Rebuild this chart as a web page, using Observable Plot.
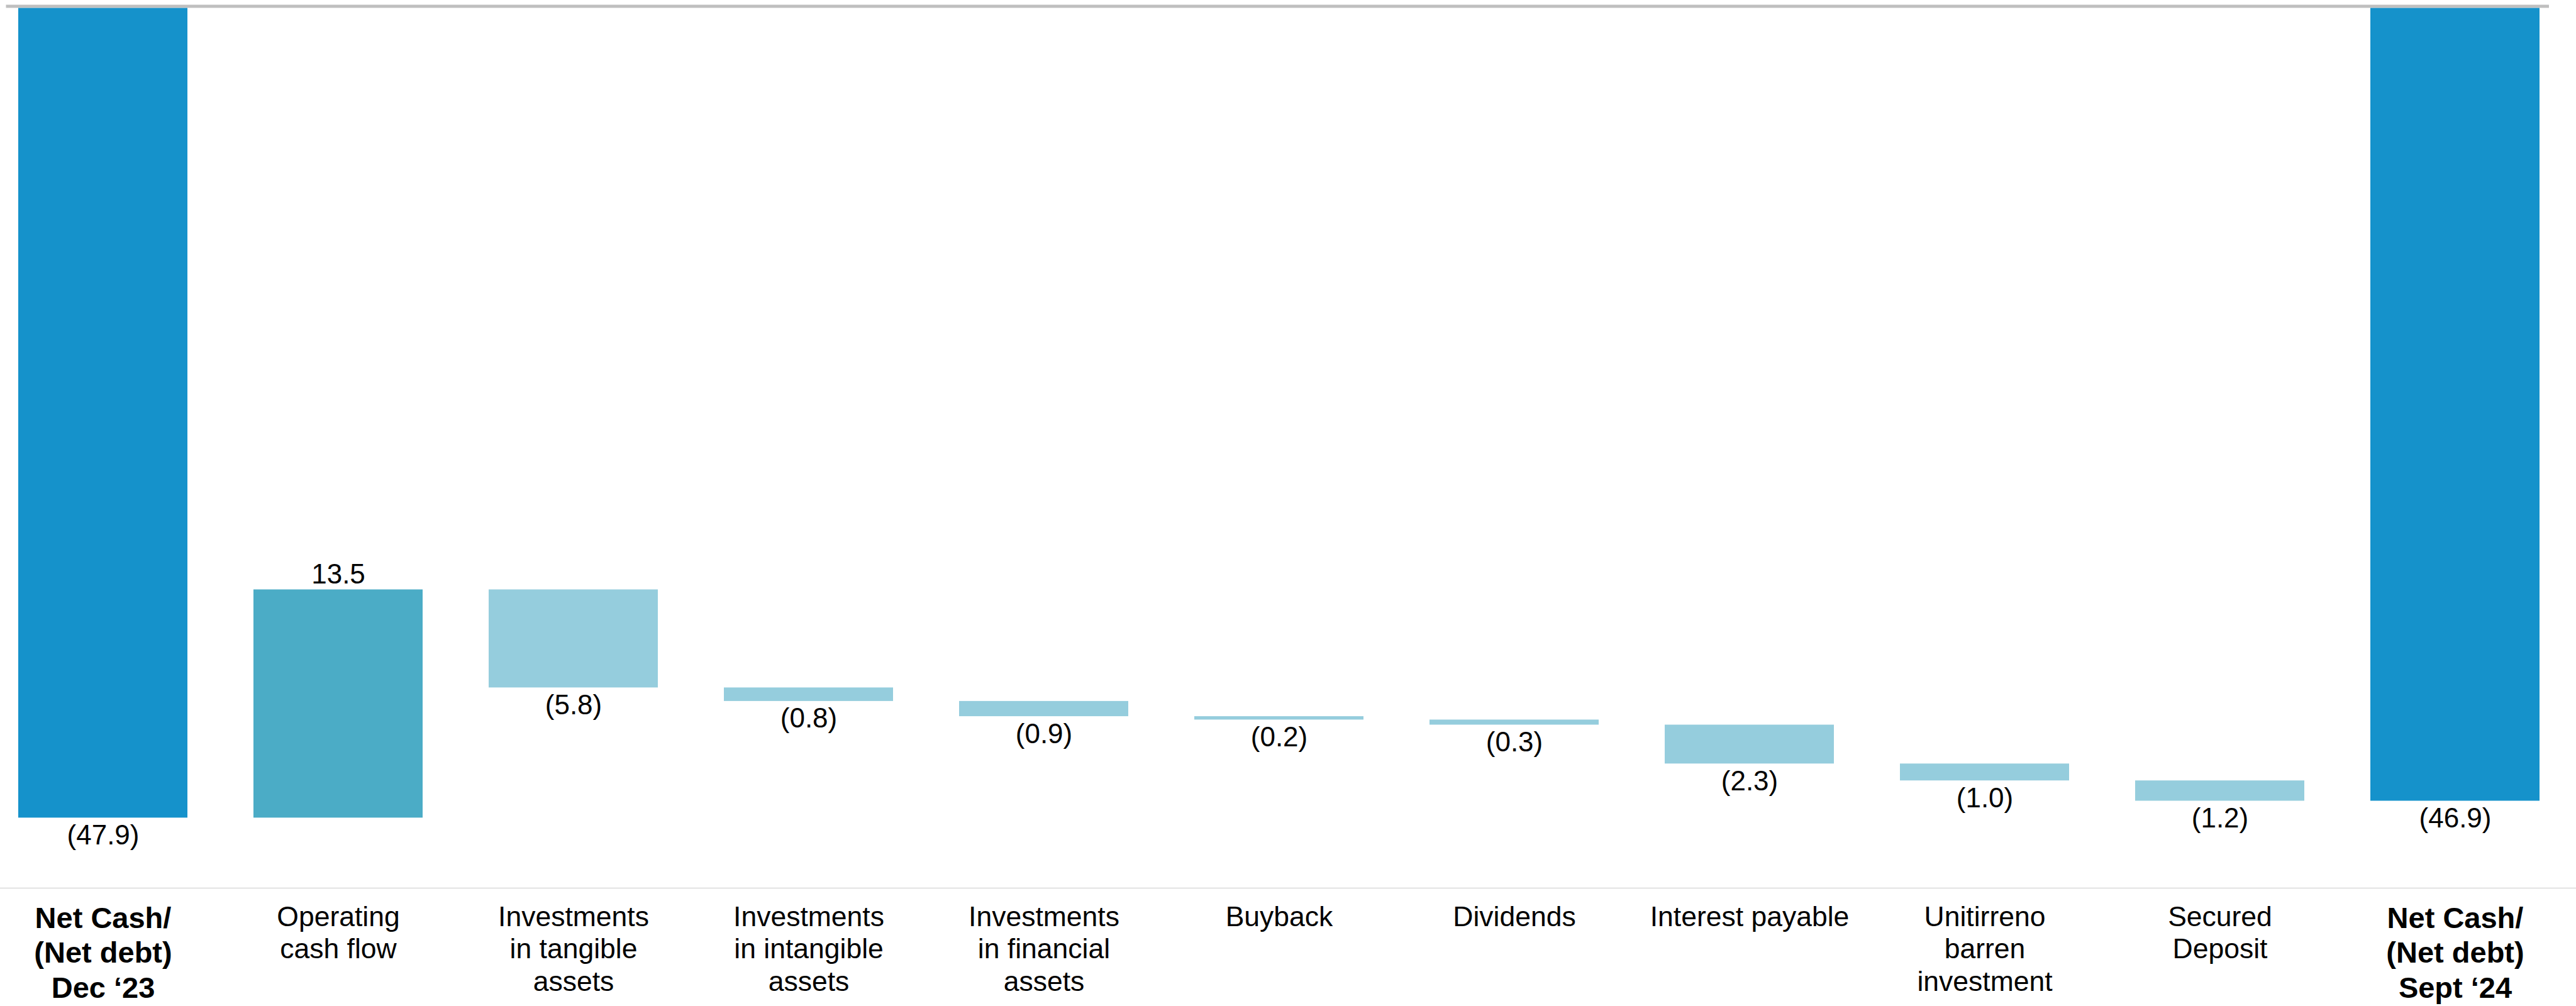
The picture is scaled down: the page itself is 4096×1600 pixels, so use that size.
<!DOCTYPE html>
<html>
<head>
<meta charset="utf-8">
<script src="https://cdn.jsdelivr.net/npm/d3@7"></script>
<script src="https://cdn.jsdelivr.net/npm/@observablehq/plot@0.6"></script>
<style>
  html, body { margin: 0; padding: 0; background: #ffffff; }
  #chart { width: 4096px; height: 1600px; overflow: hidden; }
</style>
</head>
<body>
<div id="chart"></div>
<script>
// ---- Data ----
const categories = [
  "Net Cash/\n(Net debt)\nDec \u201823",
  "Operating\ncash flow",
  "Investments\nin tangible\nassets",
  "Investments\nin intangible\nassets",
  "Investments\nin financial\nassets",
  "Buyback",
  "Dividends",
  "Interest payable",
  "Unitirreno\nbarren\ninvestment",
  "Secured\nDeposit",
  "Net Cash/\n(Net debt)\nSept \u201824"
];
const kinds = ["total", "change", "change", "change", "change", "change", "change", "change", "change", "change", "total"];
const values = [-47.9, 13.5, -5.8, -0.8, -0.9, -0.2, -0.3, -2.3, -1.0, -1.2, -46.9];

// ---- Waterfall table built from the arrays ----
let running = 0;
const rows = categories.map((c, i) => {
  const v = values[i];
  let y1, y2;
  if (kinds[i] === "total") { y1 = 0; y2 = v; running = v; }
  else { y1 = running; y2 = running + v; running = y2; }
  const type = kinds[i] === "total" ? "total" : (v >= 0 ? "increase" : "decrease");
  const label = v < 0 ? `(${Math.abs(v).toFixed(1)})` : v.toFixed(1);
  return {category: c, value: v, y1, y2, type, label};
});

const totalCats = categories.filter((c, i) => kinds[i] === "total");
const changeCats = categories.filter((c, i) => kinds[i] !== "total");

const chart = Plot.plot({
  width: 4096,
  height: 1600,
  marginLeft: 0,
  marginRight: 0,
  marginTop: 0,
  marginBottom: 188,
  style: {fontFamily: "'Liberation Sans', Arial, sans-serif", background: "#ffffff", color: "#000000"},
  x: {domain: categories, range: [-26.2, 4094.4], paddingInner: 0.28, paddingOuter: 0.14, align: 0.5},
  y: {domain: [d3.min(values), 0], range: [1300.4, 12.6], axis: null},
  color: {domain: ["total", "increase", "decrease"], range: ["#1592cb", "#4bacc6", "#95cddd"]},
  marks: [
    Plot.frame({anchor: "bottom", stroke: "#d9d9d9", strokeWidth: 1.6}),
    Plot.ruleY([0], {stroke: "#bfbfbf", strokeWidth: 5, dy: -3, insetLeft: 9.5, insetRight: 43}),
    Plot.barY(rows, {x: "category", y1: "y1", y2: "y2", fill: "type"}),
    Plot.text(rows.filter(d => d.value < 0), {x: "category", y: "y2", text: "label", lineAnchor: "bottom", dy: 42, fontSize: 44, fill: "#000"}),
    Plot.text(rows.filter(d => d.value >= 0), {x: "category", y: "y2", text: "label", lineAnchor: "bottom", dy: -10, fontSize: 44, fill: "#000"}),
    Plot.axisX({ticks: changeCats, tickSize: 0, tickPadding: 24, fontSize: 44.5, lineHeight: 1.155, fill: "#000", label: null}),
    Plot.axisX({ticks: totalCats, tickSize: 0, tickPadding: 24, fontSize: 47, fontWeight: "bold", lineHeight: 1.18, fill: "#000", label: null})
  ]
});
document.getElementById("chart").appendChild(chart);
</script>
</body>
</html>
